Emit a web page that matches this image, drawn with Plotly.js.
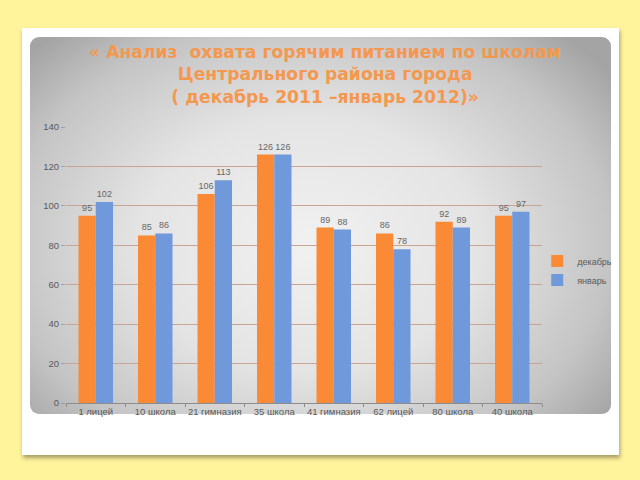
<!DOCTYPE html>
<html>
<head>
<meta charset="utf-8">
<script src="https://cdn.plot.ly/plotly-3.0.1.min.js"></script>
<style>
  html, body { margin:0; padding:0; width:640px; height:480px; background:#FFF39C; overflow:hidden; }
  #card { position:absolute; left:22px; top:28px; width:597px; height:427px; background:#fff;
          box-shadow: 1px 3px 4px rgba(0,0,0,0.35); }
  #panel { position:absolute; left:30px; top:37px; width:581px; height:377px; border-radius:9px;
           background: radial-gradient(ellipse 65% 75% at 48% 55%, #f1f1f1 0%, #e4e4e4 45%, #c4c4c4 80%, #a4a4a4 100%); }
  #chart { position:absolute; left:0; top:0; width:640px; height:480px; }
</style>
</head>
<body>
<div id="card"></div>
<div id="panel"></div>
<div id="chart"></div>
<script>
const categories = ["1 лицей", "10 школа", "21 гимназия", "35 школа", "41 гимназия", "62 лицей", "80 школа", "40 школа"];
const december = [95, 85, 106, 126, 89, 86, 92, 95];
const january = [102, 86, 113, 126, 88, 78, 89, 97];
const seriesNames = ["декабрь", "январь"];
const yTicks = [0, 20, 40, 60, 80, 100, 120, 140];

const labelFont = {family: "Liberation Sans, Arial, sans-serif", size: 9, color: "#666666"};

const traces = [
  {type: "bar", name: seriesNames[0], x: categories, y: december,
   marker: {color: "#FA8A35"}, text: december.map(String), textposition: "outside",
   textfont: labelFont, cliponaxis: false},
  {type: "bar", name: seriesNames[1], x: categories, y: january,
   marker: {color: "#7099DB"}, text: january.map(String), textposition: "outside",
   textfont: labelFont, cliponaxis: false}
];

const layout = {
  width: 640, height: 480,
  paper_bgcolor: "rgba(0,0,0,0)", plot_bgcolor: "rgba(0,0,0,0)",
  margin: {l: 66, r: 98, t: 127, b: 77},
  barmode: "group", bargap: 0.42, bargroupgap: 0,
  title: {
    text: "«\u00A0Анализ\u00A0\u00A0охвата горячим питанием по школам<br>Центрального района города<br>(\u00A0декабрь 2011 –январь 2012)»",
    font: {family: "DejaVu Sans, sans-serif", size: 17.2, color: "#F5984F", weight: "bold"},
    x: 0.508, xref: "container", xanchor: "center",
    y: 0.879, yref: "container", yanchor: "top"
  },
  xaxis: {
    showline: true, linecolor: "#8c8c8c", linewidth: 1,
    ticks: "outside", ticklen: 3, tickcolor: "#8c8c8c", tickson: "boundaries",
    tickangle: 0,
    tickfont: {family: "Liberation Sans, Arial, sans-serif", size: 9.5, color: "#595959"},
    showgrid: false, fixedrange: true
  },
  yaxis: {
    range: [0, 140], tickvals: yTicks, ticktext: yTicks.map(String),
    showgrid: true, gridcolor: "#C9A394", gridwidth: 1,
    zeroline: false, showline: false, ticks: "outside", ticklen: 4, tickcolor: "#a0a0a0",
    tickfont: {family: "Liberation Sans, Arial, sans-serif", size: 9.5, color: "#595959"},
    fixedrange: true
  },
  legend: {
    x: 0.99, xanchor: "left", y: 0.48, yanchor: "middle",
    font: {family: "Liberation Sans, Arial, sans-serif", size: 9, color: "#595959"},
    bgcolor: "rgba(0,0,0,0)", itemwidth: 30, tracegroupgap: 0
  },
  showlegend: true
};

Plotly.newPlot("chart", traces, layout, {displayModeBar: false, staticPlot: true});
</script>
</body>
</html>
